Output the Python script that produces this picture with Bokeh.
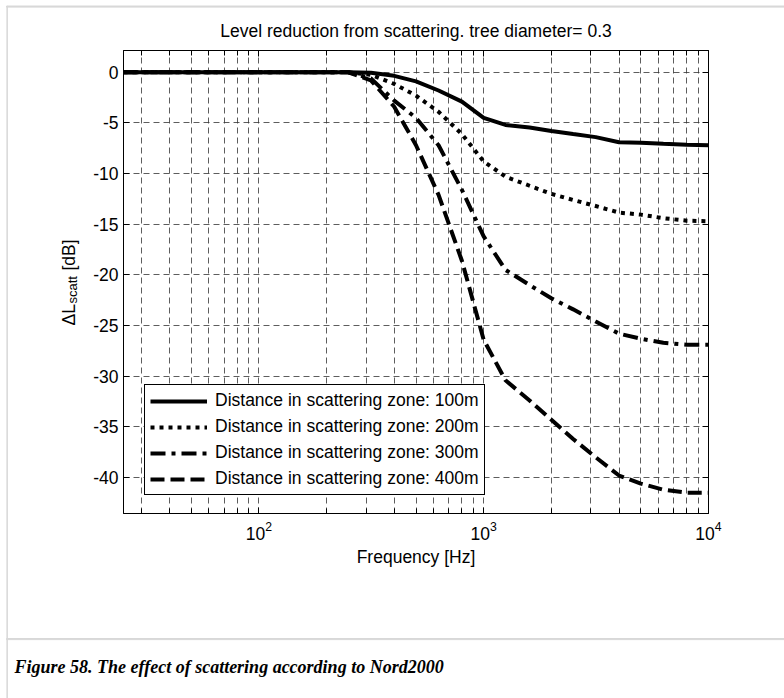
from math import log10, pi
from bokeh.plotting import figure
from bokeh.models import (Range1d, FixedTicker, LinearAxis, LogAxis, Label,
                          CustomJSTickFormatter)
from bokeh.embed import file_html
from bokeh.resources import INLINE

# ---------------- data ----------------
freq = [25, 31.5, 40, 50, 63, 80, 100, 125, 160, 200, 250, 315, 400, 500, 630,
        800, 1000, 1250, 1600, 2000, 2500, 3150, 4000, 5000, 6300, 8000, 10000]
dist_100m = [0, 0, 0, 0, 0, 0, 0, 0, 0, 0, 0, -0.05, -0.35, -0.9, -1.8,
             -2.9, -4.5, -5.2, -5.45, -5.8, -6.1, -6.4, -6.9, -6.95, -7.05, -7.15, -7.2]
dist_200m = [0, 0, 0, 0, 0, 0, 0, 0, 0, 0, 0, -0.25, -1.15, -2.3, -3.9,
             -6.1, -8.8, -10.3, -11.2, -12.0, -12.6, -13.2, -13.85, -14.05, -14.4, -14.65, -14.7]
dist_300m = [0, 0, 0, 0, 0, 0, 0, 0, 0, 0, 0, -0.6, -2.8, -4.5, -7.2,
             -11.6, -16.2, -19.5, -21.0, -22.3, -23.4, -24.6, -25.8, -26.3, -26.7, -26.9, -26.9]
dist_400m = [0, 0, 0, 0, 0, 0, 0, 0, 0, 0, 0, -0.8, -3.4, -7.2, -12.1,
             -18.6, -26.4, -30.4, -32.4, -34.3, -36.2, -38.0, -39.8, -40.6, -41.2, -41.5, -41.5]
series_labels = ["Distance in scattering zone: 100m", "Distance in scattering zone: 200m",
                 "Distance in scattering zone: 300m", "Distance in scattering zone: 400m"]

x_major_ticks = [100, 1000, 10000]
x_minor_ticks = [30, 40, 50, 60, 70, 80, 90, 200, 300, 400, 500, 600, 700, 800, 900,
                 2000, 3000, 4000, 5000, 6000, 7000, 8000, 9000]
y_ticks = [0, -5, -10, -15, -20, -25, -30, -35, -40]

title_text = "Level reduction from scattering. tree diameter= 0.3"
x_title = "Frequency [Hz]"
caption_text = "Figure 58. The effect of scattering according to Nord2000"

# ---------------- layout ----------------
XMIN, XMAX = 25, 10000
YMIN, YMAX = -43.55, 2.15
W, H = 784, 698
FL, FT, FW, FH = 123, 50, 585, 463
FONT = "Liberation Sans"
FS = "17.5px"


def fx(X):
    return 10 ** (log10(XMIN) + (X - FL) / FW * (log10(XMAX) - log10(XMIN)))


def fy(Y):
    return YMAX - (Y - FT) / FH * (YMAX - YMIN)


p = figure(width=W, height=H, x_axis_type="log",
           x_range=Range1d(XMIN, XMAX), y_range=Range1d(YMIN, YMAX),
           output_backend="svg", toolbar_location=None, title=None,
           min_border_left=FL, min_border_top=FT,
           min_border_right=W - FL - FW, min_border_bottom=H - FT - FH)
p.background_fill_color = "white"
p.border_fill_color = "white"
p.outline_line_color = "black"
p.outline_line_width = 1

bottom_axis = p.below[0]
left_axis = p.left[0]

xt = FixedTicker(ticks=x_major_ticks, minor_ticks=x_minor_ticks)
yt = FixedTicker(ticks=y_ticks)
bottom_axis.ticker = xt
left_axis.ticker = yt
left_axis.formatter = CustomJSTickFormatter(code="return String(tick)")
p.xgrid[0].ticker = xt
p.ygrid[0].ticker = yt

top_axis = LogAxis(ticker=xt, formatter=CustomJSTickFormatter(code="return ''"))
right_axis = LinearAxis(ticker=yt, formatter=CustomJSTickFormatter(code="return ''"))
p.add_layout(top_axis, "above")
p.add_layout(right_axis, "right")

for ax in [bottom_axis, left_axis, top_axis, right_axis]:
    ax.axis_line_color = "black"
    ax.axis_line_width = 1
    ax.major_tick_in = 6
    ax.major_tick_out = 0
    ax.minor_tick_in = 5
    ax.minor_tick_out = 0
    ax.major_tick_line_color = "black"
    ax.minor_tick_line_color = "black"
    ax.major_label_text_font = FONT
    ax.major_label_text_font_size = FS
    ax.major_label_text_color = "black"
left_axis.minor_tick_line_color = None
right_axis.minor_tick_line_color = None
bottom_axis.major_label_standoff = 7
left_axis.major_label_standoff = 5
bottom_axis.axis_label = x_title
bottom_axis.axis_label_text_font = FONT
bottom_axis.axis_label_text_font_size = FS
bottom_axis.axis_label_text_font_style = "normal"
bottom_axis.axis_label_text_color = "black"
bottom_axis.axis_label_standoff = 4

for g in [p.xgrid[0], p.ygrid[0]]:
    g.grid_line_color = "#333333"
    g.grid_line_width = 0.8
    g.grid_line_dash = "6 4"
p.xgrid[0].minor_grid_line_color = "#333333"
p.xgrid[0].minor_grid_line_width = 0.8
p.xgrid[0].minor_grid_line_dash = "6 4"

dashes = ["solid", "4 5", "15 6 4 6", "14 6"]
for vals, lab, dash in zip([dist_100m, dist_200m, dist_300m, dist_400m], series_labels, dashes):
    p.line(freq, vals, line_color="black", line_width=4, line_dash=dash, legend_label=lab)

lg = p.legend[0]
lg.location = (21, 18)
lg.border_line_color = "black"
lg.border_line_width = 1
lg.border_line_alpha = 1
lg.background_fill_color = "white"
lg.background_fill_alpha = 1
lg.label_text_font = FONT
lg.label_text_font_size = FS
lg.label_text_color = "black"
lg.padding = 5
lg.spacing = 5
lg.margin = 0
lg.glyph_width = 57
lg.glyph_height = 18
lg.label_height = 18
lg.label_standoff = 8

# light page rules: thin outlined boxes of blank labels
GRAY = "#d8d8d8"


def hrule(X0, Y0):
    return Label(x=fx(X0), y=fy(Y0), text=" ", text_font_size="1px",
                 text_align="left", text_baseline="top",
                 padding={"left": 0, "right": 800, "top": 0, "bottom": 0},
                 border_line_color=GRAY, border_line_width=1,
                 background_fill_color=GRAY)


def vrule(X0, Y0):
    return Label(x=fx(X0), y=fy(Y0), text=" ", text_font_size="1px",
                 text_align="left", text_baseline="top",
                 padding={"left": 0, "right": 0, "top": 0, "bottom": 720},
                 border_line_color=GRAY, border_line_width=1,
                 background_fill_color=GRAY)


p.add_layout(hrule(6, 5.5), "below")
p.add_layout(hrule(6, 638), "below")
p.add_layout(vrule(6.5, 5.5), "left")

# title (placed in a side panel so that it is not clipped to the frame)
p.add_layout(Label(x=fx(415.5), y=fy(30), text=title_text, text_align="center",
                   text_baseline="middle", text_font=FONT, text_font_size=FS,
                   text_color="black"), "above")
# y axis label: Delta L_scatt [dB]
YLX = 68
p.add_layout(Label(x=fx(YLX), y=fy(325), text="ΔL", angle=pi / 2, text_align="left",
                   text_baseline="alphabetic", text_font=FONT, text_font_size=FS,
                   text_color="black"), "left")
p.add_layout(Label(x=fx(YLX + 4), y=fy(303), text="scatt", angle=pi / 2, text_align="left",
                   text_baseline="alphabetic", text_font=FONT, text_font_size="13px",
                   text_color="black"), "left")
p.add_layout(Label(x=fx(YLX), y=fy(270), text="[dB]", angle=pi / 2, text_align="left",
                   text_baseline="alphabetic", text_font=FONT, text_font_size=FS,
                   text_color="black"), "left")
# caption
p.add_layout(Label(x=fx(14), y=fy(666), text=caption_text, text_align="left",
                   text_baseline="alphabetic", text_font="Liberation Serif",
                   text_font_size="18px", text_font_style="bold italic",
                   text_color="black"), "below")

open("out.html", "w").write(file_html(p, INLINE))
